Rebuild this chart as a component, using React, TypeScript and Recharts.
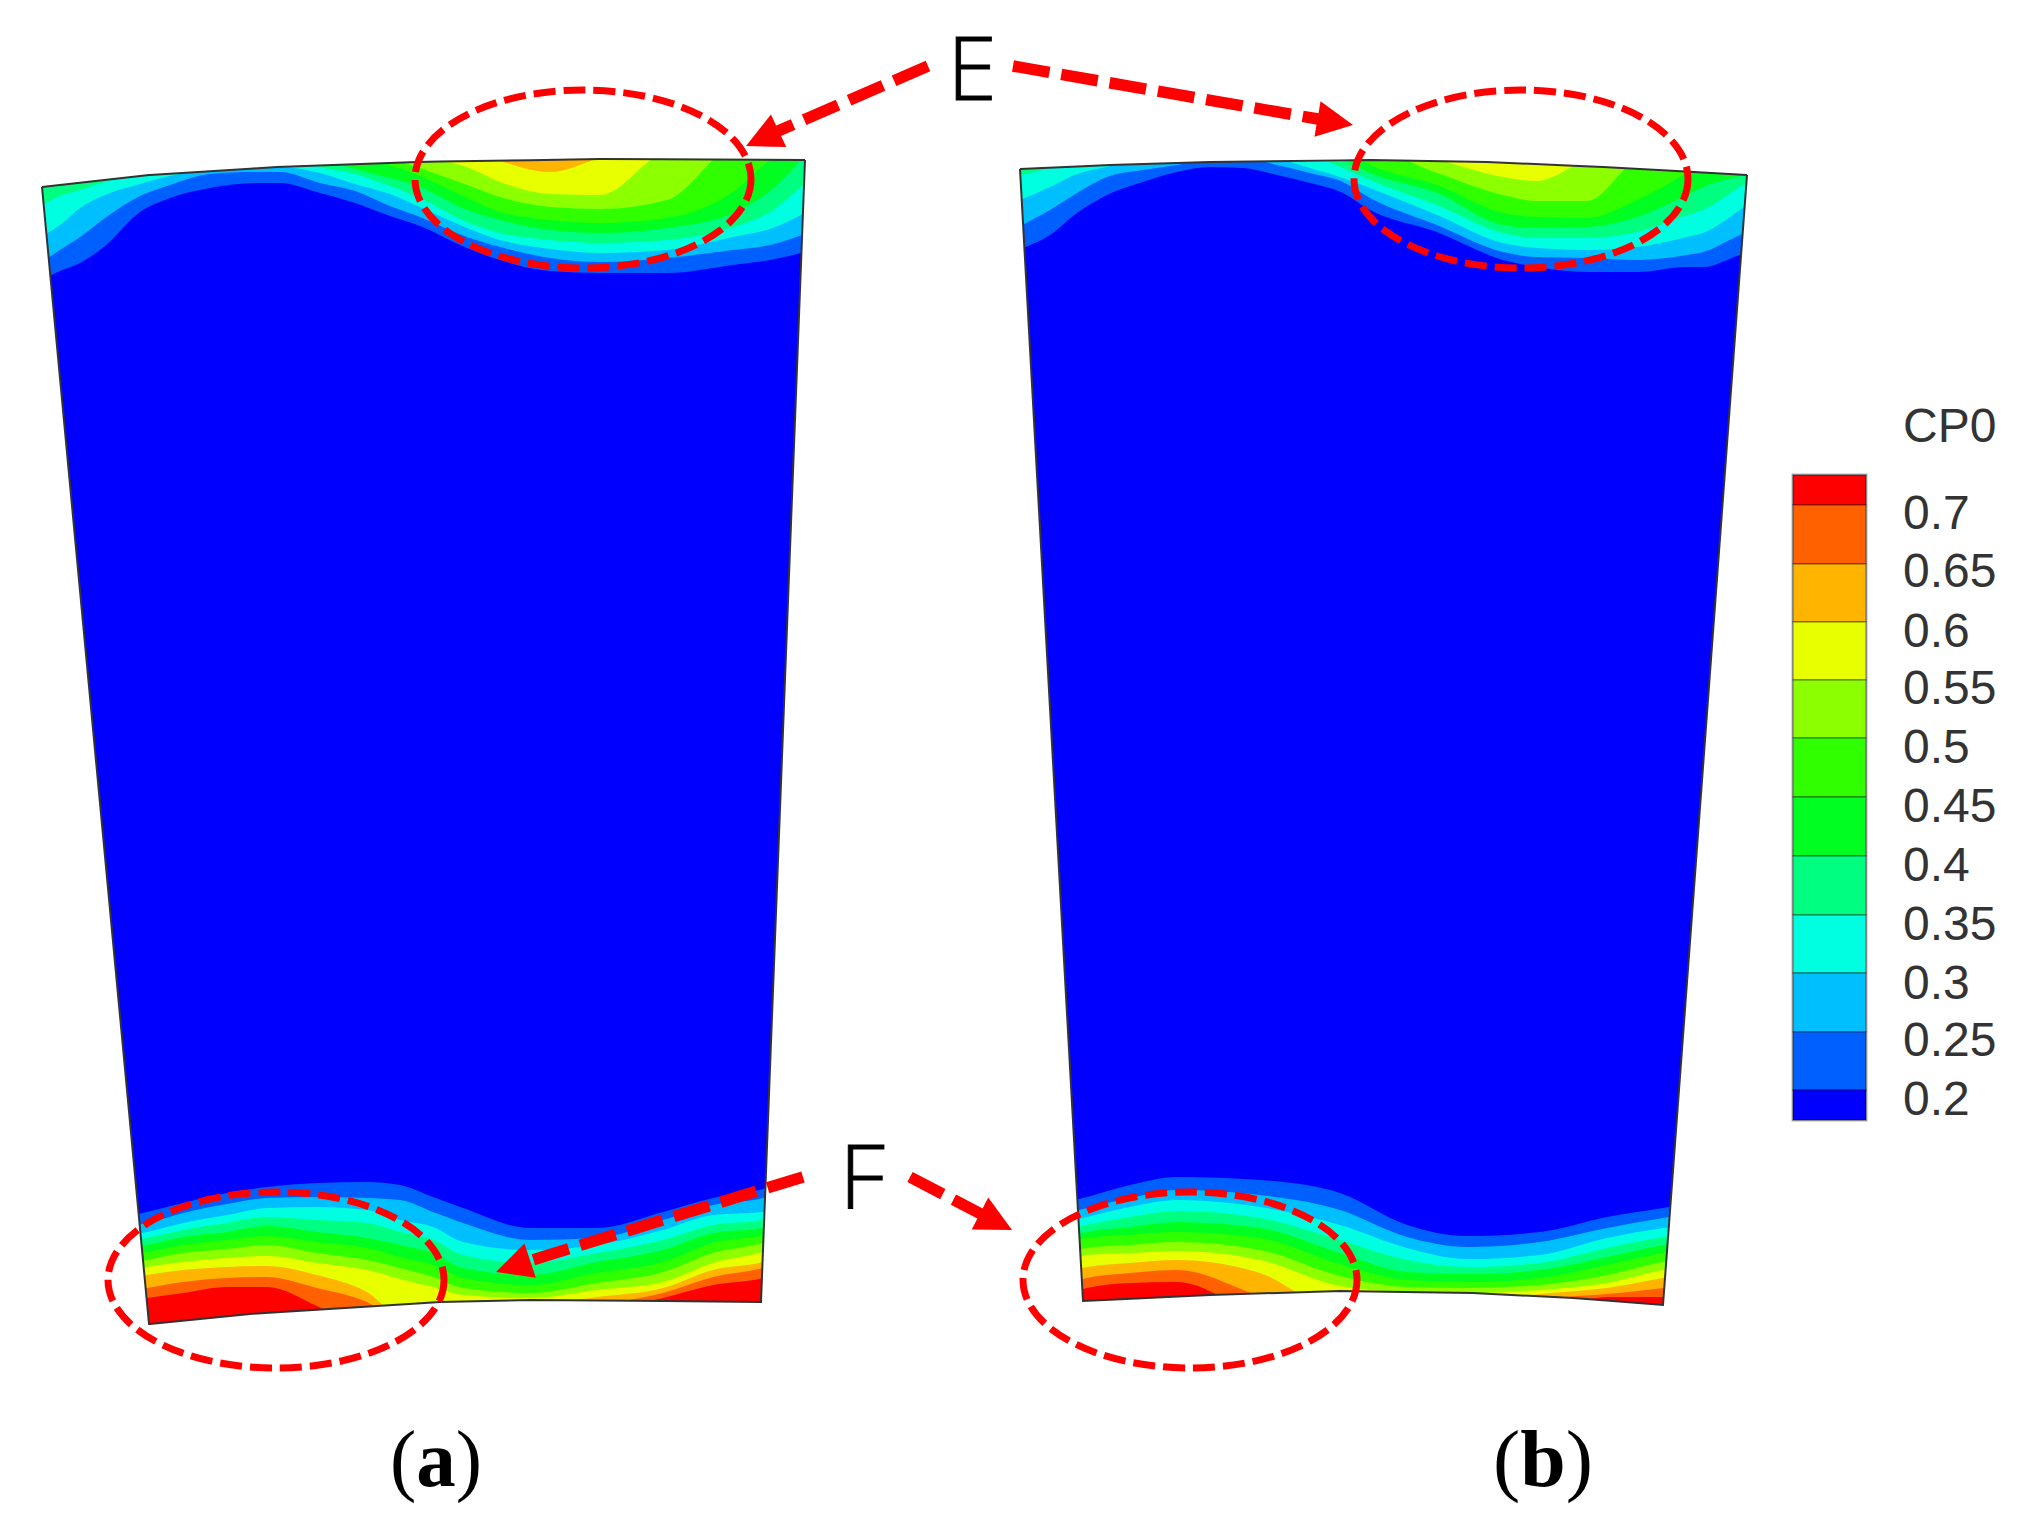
import React from 'react';
import { ComposedChart, XAxis, YAxis, Area, Line, Scatter, ReferenceArea } from 'recharts';

type Pt = [number, number];

const BAND_COLORS = ['#0060ff', '#00bfff', '#00ffe0', '#00ff80', '#00ff20', '#30ff00', '#8cff00', '#e8ff00', '#ffb400', '#ff6000', '#ff0000'];

// Blade outlines
const upperA: Pt[] = [[42, 187], [150, 175], [277, 167], [417, 162], [600, 159], [805, 160]];
const lowerA: Pt[] = [[42, 187], [149, 1324], [250, 1314], [440, 1302], [530, 1300], [663, 1301], [761, 1302], [805, 160]];
const upperB: Pt[] = [[1020, 169], [1110, 165], [1210, 162], [1370, 160], [1487, 162], [1603, 167], [1747, 175]];
const lowerB: Pt[] = [[1020, 169], [1083, 1301], [1210, 1295], [1340, 1291], [1473, 1293], [1573, 1298], [1663, 1305], [1747, 175]];

// Contour lines, panel (a), casing end
const topAX = [42, 60, 80, 105, 140, 170, 210, 255, 280, 320, 355, 390, 420, 467, 500, 550, 600, 667, 733, 770, 805];
const topAC = [
  [280, 271, 263, 246, 212, 198, 188, 183, 183, 193, 203, 216, 226, 248, 260, 271, 273, 273, 265, 260, 252],
  [262, 250, 237, 218, 196, 185, 174, 172, 172, 183, 191, 206, 217, 237, 247, 258, 262, 258, 250, 245, 234],
  [236, 225, 208, 195, 184, 176, 170, 167, 167, 173, 184, 194, 207, 228, 240, 249, 253, 250, 237, 229, 213],
  [205, 196, 190, 182, 170, 160, 150, 150, 150, 167, 174, 186, 198, 222, 233, 240, 243, 240, 227, 212, 183],
  [140, 140, 140, 140, 140, 140, 140, 140, 140, 158, 169, 178, 187, 210, 220, 230, 233, 228, 213, 191, 155],
  [140, 140, 140, 140, 140, 140, 140, 140, 140, 140, 155, 165, 176, 198, 212, 220, 223, 218, 192, 160, 140],
  [140, 140, 140, 140, 140, 140, 140, 140, 140, 140, 140, 158, 168, 185, 197, 207, 209, 200, 146, 140, 140],
  [140, 140, 140, 140, 140, 140, 140, 140, 140, 140, 140, 140, 155, 167, 182, 194, 195, 150, 140, 140, 140],
  [140, 140, 140, 140, 140, 140, 140, 140, 140, 140, 140, 140, 140, 150, 161, 172, 158, 140, 140, 140, 140],
];

// Contour lines, panel (a), hub end
const botAX = [130, 147, 183, 227, 267, 317, 367, 400, 433, 463, 530, 597, 663, 713, 763, 770];
const botAC = [
  [1216, 1212, 1203, 1193, 1187, 1183, 1182, 1185, 1197, 1208, 1228, 1228, 1212, 1198, 1189, 1187],
  [1226, 1223, 1213, 1204, 1198, 1197, 1198, 1200, 1212, 1223, 1240, 1238, 1220, 1205, 1198, 1196],
  [1235, 1232, 1223, 1215, 1208, 1207, 1210, 1220, 1227, 1242, 1250, 1245, 1230, 1215, 1212, 1210],
  [1241, 1238, 1230, 1223, 1217, 1220, 1223, 1232, 1240, 1255, 1263, 1253, 1240, 1225, 1220, 1218],
  [1248, 1245, 1237, 1232, 1226, 1232, 1238, 1245, 1253, 1268, 1275, 1262, 1250, 1233, 1228, 1226],
  [1255, 1252, 1245, 1240, 1236, 1242, 1248, 1257, 1265, 1278, 1285, 1273, 1262, 1243, 1235, 1233],
  [1263, 1260, 1253, 1249, 1245, 1253, 1260, 1268, 1277, 1288, 1293, 1283, 1272, 1253, 1243, 1241],
  [1270, 1267, 1262, 1258, 1256, 1263, 1270, 1279, 1287, 1295, 1298, 1290, 1282, 1263, 1252, 1250],
  [1278, 1275, 1270, 1267, 1266, 1275, 1292, 1315, 1310, 1308, 1305, 1297, 1288, 1270, 1262, 1260],
  [1291, 1288, 1282, 1278, 1277, 1288, 1302, 1320, 1320, 1320, 1315, 1305, 1293, 1277, 1268, 1266],
  [1301, 1298, 1293, 1287, 1287, 1306, 1330, 1330, 1330, 1330, 1330, 1312, 1298, 1285, 1278, 1276],
];

// Contour lines, panel (b), casing end
const topBX = [1020, 1050, 1077, 1107, 1143, 1177, 1210, 1243, 1277, 1310, 1343, 1370, 1437, 1503, 1537, 1587, 1637, 1687, 1703, 1740, 1747];
const topBC = [
  [249, 235, 213, 195, 182, 172, 167, 168, 175, 183, 193, 210, 232, 260, 267, 272, 272, 267, 267, 255, 253],
  [226, 210, 193, 177, 170, 165, 158, 158, 165, 173, 182, 198, 225, 252, 257, 258, 260, 255, 252, 235, 232],
  [200, 187, 174, 167, 158, 150, 150, 150, 158, 168, 178, 188, 215, 243, 248, 250, 247, 237, 233, 210, 205],
  [175, 168, 158, 150, 150, 150, 150, 150, 150, 155, 168, 180, 205, 233, 238, 238, 232, 215, 210, 187, 183],
  [150, 150, 150, 150, 150, 150, 150, 150, 150, 150, 160, 173, 193, 225, 228, 227, 217, 195, 187, 176, 174],
  [150, 150, 150, 150, 150, 150, 150, 150, 150, 150, 150, 165, 185, 213, 217, 218, 200, 172, 160, 150, 150],
  [150, 150, 150, 150, 150, 150, 150, 150, 150, 150, 150, 150, 173, 195, 201, 201, 160, 150, 150, 150, 150],
  [150, 150, 150, 150, 150, 150, 150, 150, 150, 150, 150, 150, 160, 177, 181, 160, 150, 150, 150, 150, 150],
];

// Contour lines, panel (b), hub end
const botBX = [1075, 1087, 1130, 1177, 1260, 1340, 1407, 1467, 1540, 1607, 1663, 1676];
const botBC = [
  [1200, 1197, 1185, 1177, 1180, 1193, 1225, 1236, 1232, 1217, 1208, 1206],
  [1211, 1208, 1198, 1190, 1195, 1210, 1237, 1247, 1242, 1228, 1218, 1216],
  [1220, 1217, 1207, 1200, 1207, 1225, 1248, 1259, 1255, 1238, 1228, 1226],
  [1228, 1225, 1217, 1211, 1218, 1240, 1260, 1267, 1263, 1248, 1237, 1235],
  [1235, 1232, 1227, 1222, 1228, 1253, 1272, 1274, 1270, 1257, 1245, 1243],
  [1241, 1238, 1235, 1232, 1238, 1264, 1280, 1282, 1278, 1265, 1253, 1251],
  [1251, 1248, 1245, 1242, 1250, 1276, 1287, 1288, 1285, 1275, 1262, 1260],
  [1258, 1255, 1253, 1251, 1260, 1286, 1292, 1293, 1290, 1283, 1270, 1268],
  [1270, 1267, 1263, 1260, 1273, 1310, 1310, 1305, 1294, 1288, 1278, 1276],
  [1281, 1278, 1273, 1270, 1296, 1320, 1320, 1320, 1300, 1294, 1288, 1286],
  [1291, 1288, 1283, 1282, 1315, 1330, 1330, 1330, 1315, 1297, 1297, 1295],
];

// Colour bar
const LEGEND_TITLE = 'CP0';
const legendLabels = ['0.7', '0.65', '0.6', '0.55', '0.5', '0.45', '0.4', '0.35', '0.3', '0.25', '0.2'];
const legendBaselines = [529, 587, 647, 704, 763, 822, 881, 940, 999, 1056, 1115];
const legendEdges = [475, 505, 564, 622, 680, 738, 797, 856, 915, 973, 1032, 1090, 1120];
const legendColors = ['#ff0000', '#ff6000', '#ffb400', '#e8ff00', '#8cff00', '#30ff00', '#00ff20', '#00ff80', '#00ffe0', '#00bfff', '#0060ff', '#0000ff'];
const LEGEND_X: Pt = [1793, 1866];

// Annotations: centre x, centre y, radius x, radius y
const ellipses = [
  [583, 179, 168, 89],
  [1521, 179, 167, 89],
  [276, 1280, 168, 88],
  [1190, 1280, 167, 88],
];
// Arrow shaft: from, to (base of head); tip
const arrows: [Pt, Pt, Pt][] = [
  [[928, 66], [778, 131], [746, 146]],
  [[1013, 66], [1318, 119], [1353, 125]],
  [[803, 1177], [529, 1261], [496, 1272]],
  [[910, 1177], [981, 1214], [1012, 1230]],
];

const lerp = (poly: Pt[], x: number) => {
  if (x <= poly[0][0]) return poly[0][1];
  for (let i = 1; i < poly.length; i++) {
    if (x <= poly[i][0]) {
      const [x0, y0] = poly[i - 1];
      const [x1, y1] = poly[i];
      return y0 + ((y1 - y0) * (x - x0)) / (x1 - x0 || 1);
    }
  }
  return poly[poly.length - 1][1];
};

const bladeTable = (upper: Pt[], lower: Pt[]) => {
  const xs = Array.from(new Set([...upper.map((p) => p[0]), ...lower.map((p) => p[0])])).sort((a, b) => a - b);
  return xs.map((x) => ({ x, y: [lerp(upper, x), lerp(lower, x)] }));
};

// The region between the blade end and one contour line; the blade clip trims it
const TOP_LIMIT = 100;
const BOTTOM_LIMIT = 1400;
const region = (xs: number[], cs: number[], side: 'top' | 'bottom') =>
  xs.map((x, i) => ({ x, y: side === 'top' ? [TOP_LIMIT, cs[i]] : [cs[i], BOTTOM_LIMIT] }));

const sections: [number[], number[][], 'top' | 'bottom', string][] = [
  [topAX, topAC, 'top', 'bladeA'],
  [botAX, botAC, 'bottom', 'bladeA'],
  [topBX, topBC, 'top', 'bladeB'],
  [botBX, botBC, 'bottom', 'bladeB'],
];

const Head = (p: any) => {
  const { cx, cy, payload } = p;
  return (
    <polygon
      points="0,0 -36,-18 -36,18"
      fill="#ff0000"
      transform={`translate(${cx} ${cy}) rotate(${payload.angle})`}
    />
  );
};

const EllipseShape = (p: any) => (
  <ellipse
    cx={p.x + p.width / 2}
    cy={p.y + p.height / 2}
    rx={p.width / 2}
    ry={p.height / 2}
    fill="none"
    stroke="#ff0000"
    strokeWidth={7}
    strokeDasharray="22 8"
  />
);

const blades: [Pt[], Pt[], string][] = [
  [upperA, lowerA, 'bladeA'],
  [upperB, lowerB, 'bladeB'],
];

const outlinePoints = (u: Pt[], l: Pt[]) => [...u, ...[...l].reverse()].map((p) => p.join(',')).join(' ');

export default function App() {
  return (
    <div style={{ position: 'absolute', left: 0, top: 0 }}>
      <ComposedChart width={2026} height={1528} margin={{ top: 0, right: 0, bottom: 0, left: 0 }}>
        <XAxis type="number" dataKey="x" domain={[0, 2026]} hide allowDataOverflow />
        <YAxis type="number" domain={[0, 1528]} reversed hide allowDataOverflow width={0} />
        <defs>
          {blades.map(([u, l, id]) => (
            <clipPath key={id} id={id} clipPathUnits="userSpaceOnUse">
              <polygon points={outlinePoints(u, l)} />
            </clipPath>
          ))}
        </defs>

        {blades.map(([u, l], i) => (
          <Area key={`blade${i}`} data={bladeTable(u, l)} dataKey="y" type="linear" stroke="none" fill="#0000ff" fillOpacity={1} dot={false} activeDot={false} isAnimationActive={false} />
        ))}
        {sections.flatMap(([xs, cs, side, clip], s) =>
          cs.map((c, k) => (
            <Area key={`s${s}c${k}`} data={region(xs, c, side)} dataKey="y" type="monotoneX" stroke="none" fill={BAND_COLORS[k]} fillOpacity={1} clipPath={`url(#${clip})`} dot={false} activeDot={false} isAnimationActive={false} />
          )),
        )}
        {blades.map(([u, l], i) => (
          <Area key={`outline${i}`} data={bladeTable(u, l)} dataKey="y" type="linear" stroke="#333333" strokeWidth={2} fill="none" dot={false} activeDot={false} isAnimationActive={false} />
        ))}

        <ReferenceArea x1={LEGEND_X[0] - 1.5} x2={LEGEND_X[1] + 1.5} y1={legendEdges[0] - 1.5} y2={legendEdges[legendEdges.length - 1] + 1.5} fill="#b5b5b5" fillOpacity={1} stroke="none" ifOverflow="visible" />
        {legendColors.map((color, i) => (
          <ReferenceArea key={`lg${i}`} x1={LEGEND_X[0]} x2={LEGEND_X[1]} y1={legendEdges[i]} y2={legendEdges[i + 1]} fill={color} fillOpacity={1} stroke="#00000055" strokeWidth={1.5} ifOverflow="visible" />
        ))}

        {ellipses.map(([cx, cy, rx, ry], i) => (
          <ReferenceArea key={`el${i}`} x1={cx - rx} x2={cx + rx} y1={cy - ry} y2={cy + ry} shape={EllipseShape} ifOverflow="visible" zIndex={450} />
        ))}

        {arrows.map(([a, b], i) => (
          <Line key={`ar${i}`} data={[{ x: a[0], y: a[1] }, { x: b[0], y: b[1] }]} dataKey="y" type="linear" stroke="#ff0000" strokeWidth={11.5} strokeDasharray="37 12" dot={false} activeDot={false} isAnimationActive={false} />
        ))}
        {arrows.map(([, b, t], i) => (
          <Scatter key={`hd${i}`} data={[{ x: t[0], y: t[1], angle: (Math.atan2(t[1] - b[1], t[0] - b[0]) * 180) / Math.PI }]} dataKey="y" shape={Head} isAnimationActive={false} />
        ))}

        <text x={1903} y={442} fontFamily="Liberation Sans" fontSize={48} fill="#333333">{LEGEND_TITLE}</text>
        {legendLabels.map((t, i) => (
          <text key={t} x={1903} y={legendBaselines[i]} fontFamily="Liberation Sans" fontSize={48} fill="#333333">{t}</text>
        ))}
        <text x={947} y={100} fontFamily="Open Sans" fontWeight={300} fontSize={88} textLength={50} lengthAdjust="spacingAndGlyphs" fill="#000" stroke="#000" strokeWidth={0.8}>E</text>
        <text x={839} y={1208} fontFamily="Open Sans" fontWeight={300} fontSize={88} textLength={46} lengthAdjust="spacingAndGlyphs" fill="#000" stroke="#000" strokeWidth={0.8}>F</text>
        <text x={390} y={1486} fontFamily="Liberation Serif" fontSize={80} textLength={92} lengthAdjust="spacingAndGlyphs" fill="#000">(<tspan fontWeight={700}>a</tspan>)</text>
        <text x={1493} y={1486} fontFamily="Liberation Serif" fontSize={80} textLength={100} lengthAdjust="spacingAndGlyphs" fill="#000">(<tspan fontWeight={700}>b</tspan>)</text>
      </ComposedChart>
    </div>
  );
}
